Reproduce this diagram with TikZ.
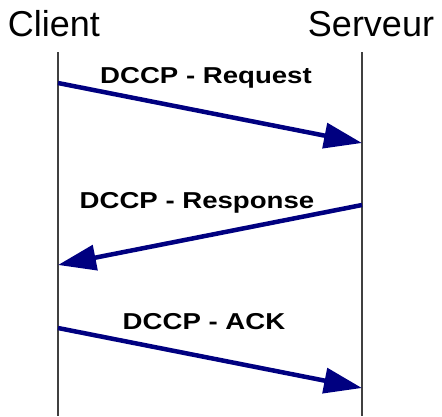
\documentclass[tikz,border=0pt]{standalone}
\usepackage{fontspec}
\setmainfont{Liberation Sans}
\newfontfamily\msgfont[FakeStretch=1.2]{Liberation Sans}
\usetikzlibrary{arrows.meta}
\definecolor{msgblue}{HTML}{000080}
\definecolor{lifegray}{HTML}{404040}
\begin{document}
\begin{tikzpicture}[x=1pt,y=-1pt,
  party/.style={anchor=base,inner sep=0pt,font=\fontsize{36}{40}\selectfont},
  msglabel/.style={anchor=base,inner sep=0pt,font=\msgfont\bfseries\fontsize{23}{26}\selectfont},
  lifeline/.style={draw=lifegray,line width=1.5pt},
  msg/.style={draw=msgblue,line width=4.5pt,-{Triangle[length=38pt,width=25pt]}}]
  \useasboundingbox (0,0) rectangle (442,416);
  % participants
  \node[party] (client) at (54,36) {Client};
  \node[party] (serveur) at (371,36) {Serveur};
  % lifelines
  \coordinate (ctop) at (58,52);
  \coordinate (cbot) at (58,416);
  \coordinate (stop) at (362,52);
  \coordinate (sbot) at (362,416);
  \draw[lifeline] (ctop) -- (cbot);
  \draw[lifeline] (stop) -- (sbot);
  % message end points
  \coordinate (r1) at (58,83);
  \coordinate (r2) at (362,143);
  \coordinate (p1) at (362,205);
  \coordinate (p2) at (58,265);
  \coordinate (a1) at (58,328);
  \coordinate (a2) at (362,388);
  \draw[msg] (r1) -- (r2);
  \draw[msg] (p1) -- (p2);
  \draw[msg] (a1) -- (a2);
  % labels
  \node[msglabel] (lreq) at (206,83) {DCCP - Request};
  \node[msglabel] (lresp) at (197,208) {DCCP - Response};
  \node[msglabel] (lack) at (204,329) {DCCP - ACK};
\end{tikzpicture}
\end{document}
